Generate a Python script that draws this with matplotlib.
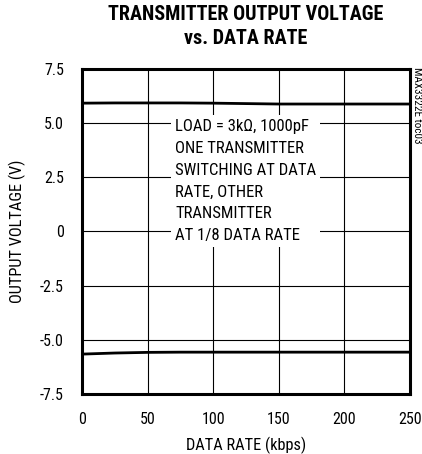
import matplotlib
matplotlib.use("Agg")
import matplotlib.pyplot as plt

plt.rcParams["font.family"] = ["Roboto Condensed", "DejaVu Sans"]

# data
data_rate = [0, 25, 50, 75, 100, 125, 150, 175, 200, 225, 250]
vout_high = [5.92, 5.93, 5.93, 5.93, 5.92, 5.90, 5.88, 5.88, 5.88, 5.88, 5.88]
vout_low = [-5.66, -5.61, -5.58, -5.57, -5.57, -5.57, -5.57, -5.57, -5.57, -5.57, -5.57]
x_ticks = [0, 50, 100, 150, 200, 250]
y_ticks = [-7.5, -5.0, -2.5, 0, 2.5, 5.0, 7.5]
y_labels = ["-7.5", "-5.0", "-2.5", "0", "2.5", "5.0", "7.5"]

fig = plt.figure(figsize=(4.22, 4.54), dpi=100)
ax = fig.add_axes([0.1943, 0.1322, 0.7773, 0.716])

ax.plot(data_rate, vout_high, color="black", lw=2.0, zorder=3)
ax.plot(data_rate, vout_low, color="black", lw=2.0, zorder=3)

ax.set_xlim(0, 250)
ax.set_ylim(-7.5, 7.5)
ax.set_xticks(x_ticks)
ax.set_yticks(y_ticks)
ax.set_yticklabels(y_labels)
ax.tick_params(axis="x", length=0, labelsize=11.5, pad=13)
ax.tick_params(axis="y", length=0, labelsize=11.5, pad=13)
ax.grid(True, color="black", lw=0.8)
for s in ax.spines.values():
    s.set_linewidth(2.2)

ax.set_xlabel("DATA RATE (kbps)", fontsize=11.8, labelpad=7)
ax.set_ylabel("OUTPUT VOLTAGE (V)", fontsize=11.8, labelpad=10)

ax.text(0.284, 0.655, "LOAD = 3k\u03a9, 1000pF\nONE TRANSMITTER\nSWITCHING AT DATA\nRATE, OTHER\nTRANSMITTER\nAT 1/8 DATA RATE",
        transform=ax.transAxes, fontsize=12, va="center", ha="left", linespacing=1.56,
        bbox=dict(facecolor="white", edgecolor="none", pad=3), zorder=4)

fig.text(0.583, 0.988, "TRANSMITTER OUTPUT VOLTAGE\nvs. DATA RATE", ha="center", va="top",
         fontsize=14.5, fontweight="heavy", linespacing=1.3)
fig.text(0.988, 0.852, "MAX3322E toc03", rotation=270, ha="center", va="top", fontsize=8)

fig.savefig("out.png", dpi=100)
